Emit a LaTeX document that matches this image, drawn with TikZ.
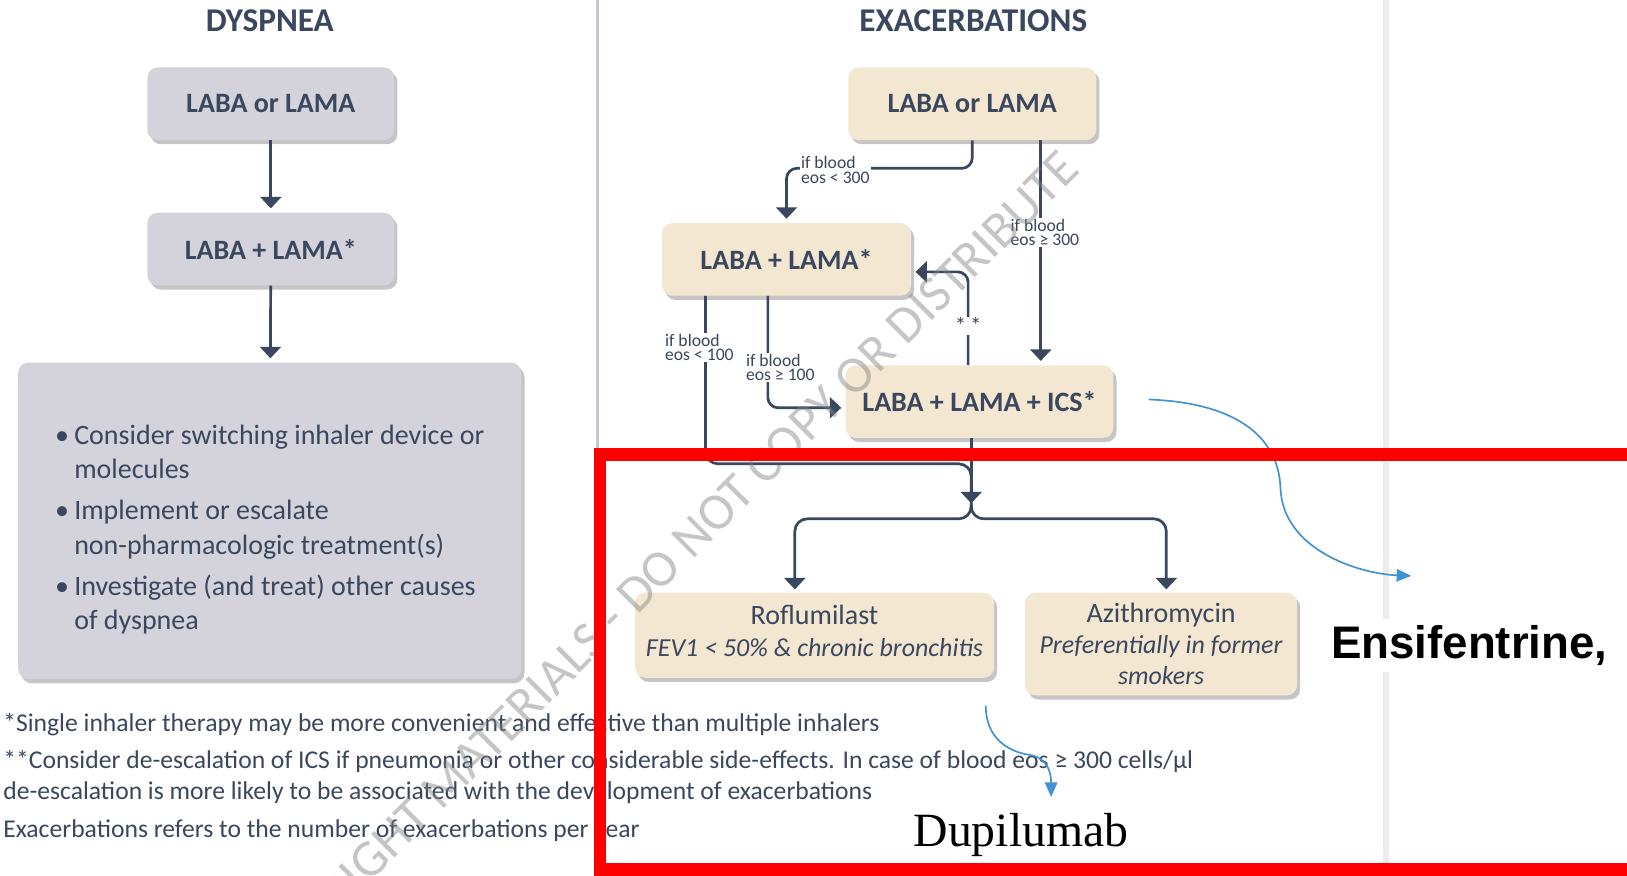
\documentclass[tikz,border=0pt]{standalone}
\usepackage{fontspec}
\setmainfont{Carlito}
\newfontfamily\arialfont{Liberation Sans}
\newfontfamily\timesfont{Liberation Serif}
\usepackage{xcolor}
\usetikzlibrary{arrows.meta, shadows}
\definecolor{slate}{RGB}{58,71,94}
\definecolor{boxgray}{RGB}{212,210,218}
\definecolor{boxtan}{RGB}{243,231,209}
\definecolor{noteblue}{RGB}{64,146,212}
\definecolor{divider}{RGB}{196,200,210}

\begin{document}
\begin{tikzpicture}[x=1pt, y=-1pt,
  box/.style={rounded corners=10pt, text=slate, font=\fontsize{27}{30}\selectfont\bfseries, minimum width=238pt, minimum height=70pt, inner sep=0pt, drop shadow={shadow xshift=3pt, shadow yshift=-4pt, opacity=0.45}},
  graybox/.style={box, fill=boxgray},
  tanbox/.style={box, fill=boxtan},
  link/.style={draw=slate, line width=2.6pt},
  flow/.style={link, shorten >=4pt, -{Triangle[width=20pt,length=11pt]}},
  cond/.style={fill=white, text=slate, font=\fontsize{17}{14}\selectfont, align=left, inner sep=1pt},
  title/.style={text=slate, font=\fontsize{32}{36}\selectfont\bfseries},
  hint/.style={draw=noteblue, line width=1.6pt, -{Triangle[width=12pt,length=14pt]}}]
\useasboundingbox (0,0) rectangle (1568,844);
\fill[white] (0,0) rectangle (1568,844);
\draw[divider, line width=2.5pt] (576,0) -- (576,844);
\draw[gray!15, line width=6pt] (1336,0) -- (1336,844);

\node[title] (dysTitle) at (260,20) {DYSPNEA};
\node[title] (exTitle) at (938,20) {EXACERBATIONS};

\node[graybox] (dysA) at (261,100) {LABA or LAMA};
\node[graybox] (dysB) at (261,240) {LABA + LAMA*};
\node[graybox, minimum width=485pt, minimum height=305pt, font=\fontsize{27}{33}\selectfont, align=left] (dysC) at (260,502) {\raisebox{-9pt}[\height][\depth]{\begin{tabular}{@{}l@{\hspace{5pt}}l@{}}
\textbullet & Consider switching inhaler device or\\
 & molecules\\[7pt]
\textbullet & Implement or escalate\\
 & non-pharmacologic treatment(s)\\[7pt]
\textbullet & Investigate (and treat) other causes\\
 & of dyspnea
\end{tabular}}};
\draw[flow] (dysA) -- (dysB);
\draw[flow] (dysB) -- (dysC);

\node[tanbox, minimum width=239pt] (exA) at (937,100) {LABA or LAMA};
\node[tanbox, minimum width=240pt] (exB) at (758,250) {LABA + LAMA*};
\node[tanbox, minimum width=258pt] (exC) at (944,387) {LABA + LAMA + ICS*};
\node[tanbox, anchor=north, minimum width=346pt, minimum height=82pt, font=\fontsize{25}{30}\selectfont] (rofl) at (785,571) {\raisebox{1pt}[\height][\depth]{\begin{tabular}{@{}c@{}}{\fontsize{27}{30}\selectfont Roflumilast}\\\textit{FEV1 < 50\% \& chronic bronchitis}\end{tabular}}};
\node[tanbox, anchor=north, minimum width=262pt, minimum height=99pt, font=\fontsize{25}{30}\selectfont, align=center] (azith) at (1119,571) {{\fontsize{27}{30}\selectfont Azithromycin}\\\textit{Preferentially in former}\\\textit{smokers}};

\coordinate (lowOut) at ([xshift=-78pt]exB.south);
\coordinate (midOut) at ([xshift=-18pt]exB.south);
\coordinate (join) at (936,447);
\coordinate (split) at (936,485);
\coordinate (branch) at (936,500);
\coordinate (roflIn) at ([xshift=-19pt]rofl.north);
\coordinate (azithIn) at ([xshift=5pt]azith.north);

\draw[flow, rounded corners=10pt] (exA.south) -- ++(0,27) -| (exB.north);
\draw[flow] ([xshift=66pt]exA.south) -- ([xshift=59pt]exC.north);
\draw[flow, rounded corners=10pt] ([xshift=-11pt]exC.north) |- ([yshift=-12pt]exB.east);
\draw[flow, rounded corners=10pt] (midOut) |- ([yshift=-6pt]exC.west);
\draw[link, rounded corners=12pt] (lowOut) |- (join) -- (split);
\draw[flow, shorten >=0pt] (exC.south -| split) -- (split);
\draw[flow, shorten >=3pt, rounded corners=12pt] (split) |- (roflIn |- branch) -- (roflIn);
\draw[flow, shorten >=3pt, rounded corners=12pt] (split) |- (azithIn |- branch) -- (azithIn);

\node[cond] (lt300) at (805,164) {if blood\\eos < 300};
\node[cond] (ge300) at (1007,224) {if blood\\eos ≥ 300};
\node[cond] (lt100) at (674,335) {if blood\\eos < 100};
\node[cond] (ge100) at (752,354) {if blood\\eos ≥ 100};
\node[cond, font=\fontsize{22}{22}\selectfont] (deesc) at (933,314) {*\,*};

\node[anchor=north west, inner sep=0pt, text=slate, font=\fontsize{24.7}{30}\selectfont, align=left] (notes) at (3,687) {*Single inhaler therapy may be more convenient and effective than multiple inhalers\\[6pt]
**Consider de-escalation of ICS if pneumonia or other considerable side-effects. In case of blood eos ≥ 300 cells/µl\\
de-escalation is more likely to be associated with the development of exacerbations\\[6pt]
Exacerbations refers to the number of exacerbations per year};

\node[rotate=45, text=gray, opacity=0.45, font=\fontsize{50}{50}\selectfont] (mark) at (635,550) {COPYRIGHT MATERIALS - DO NOT COPY OR DISTRIBUTE};

\node[fill=white, inner sep=6pt, font=\arialfont\bfseries\fontsize{44}{48}\selectfont] (ensi) at (1416,622) {Ensifentrine,};
\node[font=\timesfont\fontsize{46}{50}\selectfont] (dupi) at (984,805) {Dupilumab};

\coordinate (icsNote) at (1107,385);
\coordinate (ensiTip) at (1360,555);
\coordinate (eosNote) at (950,680);
\coordinate (dupiTip) at (1013,768);
\draw[hint] (icsNote) .. controls (1190,388) and (1232,420) .. (1234,470) .. controls (1236,530) and (1310,553) .. (ensiTip);
\draw[hint] (eosNote) .. controls (950,712) and (972,725) .. (995,728) .. controls (1010,732) and (1013,745) .. (dupiTip);

\draw[red, line width=12pt] (1600,438) -- (578,438) -- (578,838) -- (1600,838);
\end{tikzpicture}
\end{document}
